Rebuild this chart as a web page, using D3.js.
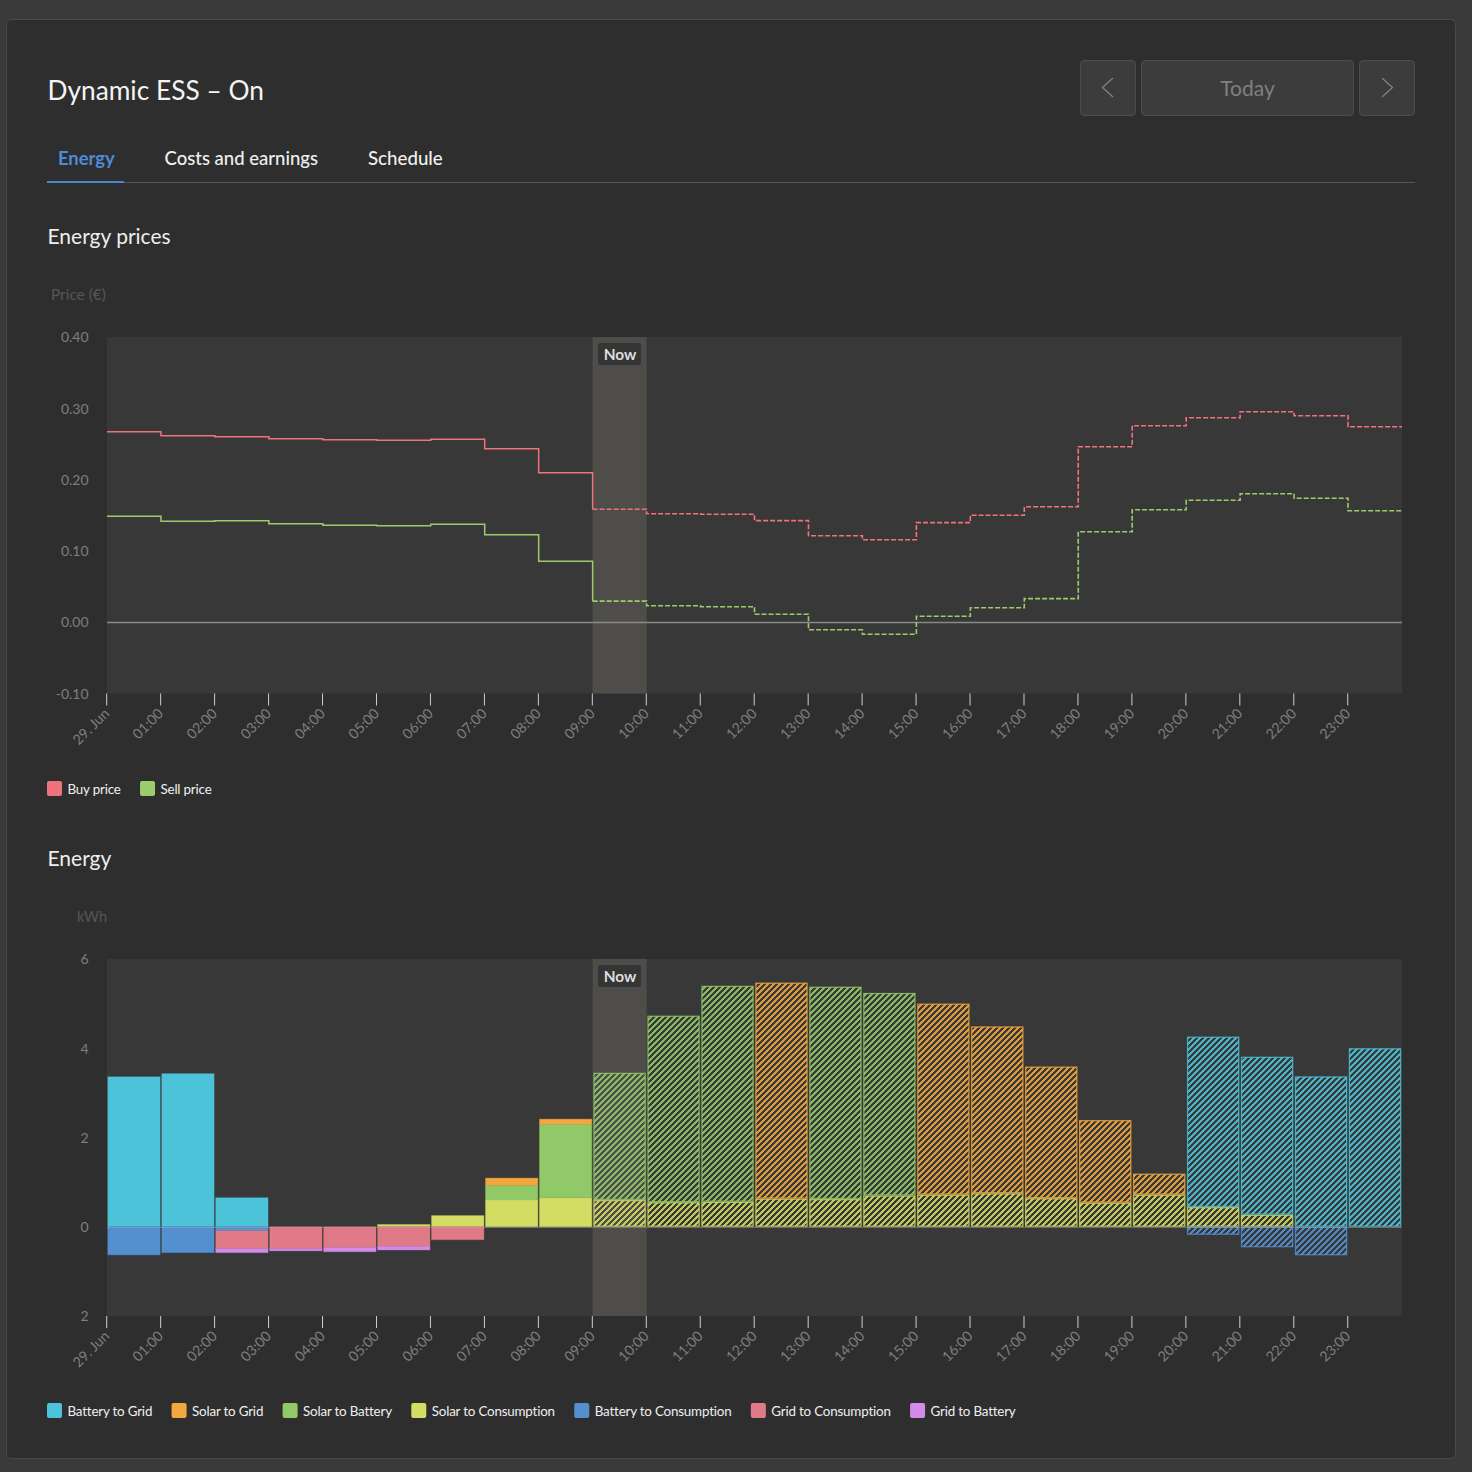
<!DOCTYPE html>
<html><head><meta charset="utf-8">
<script src="https://cdn.jsdelivr.net/npm/d3@7"></script>
<style>
html,body{margin:0;padding:0;background:#3a3a3a;}
svg{display:block;font-family:Lato,"Open Sans",sans-serif;}
</style></head><body>
<svg id="c" width="1472" height="1472"></svg>
<script>
const hourLabels=["29. Jun","01:00","02:00","03:00","04:00","05:00","06:00","07:00","08:00","09:00","10:00","11:00","12:00","13:00","14:00","15:00","16:00","17:00","18:00","19:00","20:00","21:00","22:00","23:00"];
const nowHour=9;
const buyPrice=[.2672,.2616,.2602,.2574,.2560,.2553,.2567,.2433,.2097,.1585,.1522,.1515,.1424,.1213,.1157,.1396,.1501,.1620,.2461,.2756,.2868,.2952,.2896,.2742];
const sellPrice=[.1487,.1417,.1424,.1381,.1360,.1353,.1374,.1227,.0856,.0295,.0231,.0217,.0112,-.0105,-.0168,.0084,.0203,.0330,.1269,.1578,.1711,.1802,.1739,.1564];
const batteryToGrid=[3.36,3.43,.65,0,0,0,0,0,0,0,0,0,0,0,0,0,0,0,0,0,3.82,3.54,3.37,4.0];
const solarToGrid=[0,0,0,0,0,0,0,.16,.11,0,0,0,4.84,0,0,4.28,3.74,2.95,1.85,.47,0,0,0,0];
const solarToBattery=[0,0,0,0,0,0,0,.33,1.65,2.85,4.18,4.84,0,4.76,4.54,0,0,0,0,0,0,0,0,0];
const solarToConsumption=[0,0,0,0,0,.05,.25,.6,.65,.6,.55,.56,.63,.62,.70,.72,.75,.64,.54,.72,.44,.27,0,0];
const batteryToConsumption=[-.63,-.58,-.09,0,0,0,0,0,0,0,0,0,0,0,0,0,0,0,0,0,-.18,-.46,-.64,0];
const gridToConsumption=[0,0,-.40,-.49,-.47,-.44,-.29,0,0,0,0,0,0,0,0,0,0,0,0,0,0,0,0,0];
const gridToBattery=[0,0,-.09,-.05,-.09,-.08,0,0,0,0,0,0,0,0,0,0,0,0,0,0,0,0,0,0];
const priceTicks=[-.1,0,.1,.2,.3,.4];
const energyTicks=[-2,0,2,4,6];
const priceLegend=[["Buy price","#f0727a"],["Sell price","#9ccc6b"]];
const energySeries=[
 ["Battery to Grid",batteryToGrid,"#4dc3da"],
 ["Solar to Grid",solarToGrid,"#f2a73f"],
 ["Solar to Battery",solarToBattery,"#92c968"],
 ["Solar to Consumption",solarToConsumption,"#d3dc63"],
 ["Battery to Consumption",batteryToConsumption,"#5490d0"],
 ["Grid to Consumption",gridToConsumption,"#e07a87"],
 ["Grid to Battery",gridToBattery,"#d48ae8"]];
const stackOrder=["Solar to Consumption","Solar to Battery","Solar to Grid","Battery to Grid","Battery to Consumption","Grid to Consumption","Grid to Battery"];

const svg=d3.select("#c");
const defs=svg.append("defs");
svg.append("rect").attr("x",6.5).attr("y",19.5).attr("width",1449).attr("height",1439).attr("rx",5)
  .attr("fill","#2e2e2e").attr("stroke","#4a4a4a");

// header
const T=(x,y,s,size,fill,extra)=>{const t=svg.append("text").attr("x",x).attr("y",y).attr("font-size",size).attr("fill",fill).text(s);if(extra)extra(t);return t;};
T(47.5,100,"Dynamic ESS – On",26.3,"#f4f4f4");
T(58,165,"Energy",18.4,"#4f8bd6",t=>t.attr("font-weight",700));
T(164.5,165,"Costs and earnings",18.5,"#f0f0f0",t=>t.attr("font-weight",500));
T(368,165,"Schedule",18.7,"#f0f0f0",t=>t.attr("font-weight",500));
svg.append("rect").attr("x",47).attr("y",182).attr("width",1368).attr("height",1).attr("fill","#565656");
svg.append("rect").attr("x",47).attr("y",181).attr("width",77).attr("height",2).attr("fill","#4a86d0");
[[1080,56],[1141,213],[1359,56]].forEach(([x,w])=>svg.append("rect").attr("x",x+.5).attr("y",60.5).attr("width",w-1).attr("height",55).attr("rx",3.5).attr("fill","#3c3c3c").attr("stroke","#4c4c4c"));
T(1247.5,96,"Today",21,"#808080",t=>t.attr("text-anchor","middle"));
svg.append("path").attr("d","M1113 78L1102.5 87.5L1113 97").attr("fill","none").attr("stroke","#808080").attr("stroke-width",1.3);
svg.append("path").attr("d","M1382 78L1392.5 87.5L1382 97").attr("fill","none").attr("stroke","#808080").attr("stroke-width",1.3);

T(47.5,243.5,"Energy prices",21,"#eeeeee");
T(47.5,866,"Energy",21,"#eeeeee");

const plotL=107,plotR=1402;
const x=d3.scaleLinear().domain([0,24]).range([plotL,plotR]);
const hours=d3.range(24);

function frame(top,bottom,ticks,yDomain,fmt){
  const g=svg.append("g");
  const y=d3.scaleLinear().domain(yDomain).range([bottom,top]);
  g.append("rect").attr("x",plotL).attr("y",top).attr("width",plotR-plotL).attr("height",bottom-top).attr("fill","#383838");
  g.append("rect").attr("x",x(nowHour)).attr("y",top).attr("width",x(nowHour+1)-x(nowHour)).attr("height",bottom-top).attr("fill","#4f4d49");
  const yg=g.append("g").attr("transform",`translate(${plotL-.4},0.3)`).call(d3.axisLeft(y).tickValues(ticks).tickSize(0).tickPadding(18).tickFormat(fmt));
  yg.select(".domain").remove();
  yg.selectAll("text").attr("font-size",14).attr("fill","#7f7f7f").attr("font-family","Lato,sans-serif");
  const xg=g.append("g").attr("transform",`translate(-0.8,${bottom})`).call(d3.axisBottom(x).tickValues(hours).tickSize(12).tickFormat(i=>hourLabels[i]));
  xg.select(".domain").remove();
  xg.selectAll("line").attr("stroke","#c9cfdc").attr("stroke-width",1);
  xg.selectAll("text").attr("font-size",14.1).attr("fill","#7f7f7f").attr("font-family","Lato,sans-serif")
    .attr("text-anchor","end").attr("y",0).attr("dy",0)
    .attr("transform","translate(3.5,21) rotate(-45)");
  const lab=svg.append("g");
  lab.append("rect").attr("x",598).attr("y",top+6).attr("width",43).attr("height",22).attr("rx",2).attr("fill","#353535");
  lab.append("text").attr("x",620).attr("y",top+23).attr("text-anchor","middle").attr("font-size",15.4).attr("font-weight",700).attr("fill","#dddddd").text("Now");
  return {y,g,lab};
}

// price chart
const p=frame(337,693.5,priceTicks,[-.1,.4],d=>d3.format(".2f")(d).replace("−","-"));
T(51,300,"Price (€)",15.4,"#565656");
p.g.append("line").attr("x1",plotL).attr("x2",plotR).attr("y1",Math.round(p.y(0))+.5).attr("y2",Math.round(p.y(0))+.5).attr("stroke","#8a8a88").attr("stroke-width",1.3);
const step=d3.line().x(d=>x(d[0])).y(d=>p.y(d[1])).curve(d3.curveStepAfter);
[[buyPrice,"#f0727a"],[sellPrice,"#9ccc6b"]].forEach(([vals,col])=>{
  const pts=vals.map((v,i)=>[i,v]);
  p.g.append("path").attr("d",step(pts.slice(0,nowHour+1))).attr("fill","none").attr("stroke",col).attr("stroke-width",1.5);
  p.g.append("path").attr("d",step(pts.slice(nowHour).concat([[24,vals[23]]]))).attr("fill","none").attr("stroke",col).attr("stroke-width",1.6).attr("stroke-dasharray","5 2");
});
p.lab.raise();

// energy chart
const e=frame(959,1316,energyTicks,[-2,6],d=>Math.abs(d));
T(77,922,"kWh",14.5,"#565656");
const rows=hours.map(h=>Object.fromEntries(energySeries.map(s=>[s[0],s[1][h]])));
const stacked=d3.stack().keys(stackOrder).offset(d3.stackOffsetDiverging)(rows);
energySeries.forEach(([n,,c],i)=>{
  defs.append("pattern").attr("id","hatch"+i).attr("patternUnits","userSpaceOnUse").attr("width",6).attr("height",6)
    .append("path").attr("d","M-1.5 1.5L1.5 -1.5M0 6L6 0M4.5 7.5L7.5 4.5").attr("stroke",c).attr("stroke-opacity",.88).attr("stroke-width",2.1).attr("fill","none").attr("shape-rendering","crispEdges");
});
const band=d3.scaleBand().domain(hours).range([plotL,plotR]).paddingInner(.03).paddingOuter(.015);
stacked.forEach(layer=>{
  const idx=energySeries.findIndex(s=>s[0]===layer.key), col=energySeries[idx][2];
  e.g.append("g").selectAll("rect").data(layer.map((d,h)=>({h,a:d[0],b:d[1]})).filter(d=>d.a!==d.b)).join("rect")
    .attr("x",d=>band(d.h)+(d.h>=nowHour?.6:0))
    .attr("width",d=>band.bandwidth()-(d.h>=nowHour?1.2:0))
    .attr("y",d=>e.y(Math.max(d.a,d.b))+(d.h>=nowHour?.6:0))
    .attr("height",d=>Math.abs(e.y(d.a)-e.y(d.b))-(d.h>=nowHour?1.2:0))
    .attr("fill",d=>d.h>=nowHour?`url(#hatch${idx})`:col)
    .attr("stroke",col)
    .attr("stroke-opacity",d=>d.h>=nowHour?.8:.35)
    .attr("stroke-width",d=>d.h>=nowHour?1.3:1);
});
e.g.append("line").attr("x1",plotL).attr("x2",plotR).attr("y1",Math.round(e.y(0))+.5).attr("y2",Math.round(e.y(0))+.5).attr("stroke","#a8a8a6").attr("stroke-width",.8).attr("stroke-opacity",.6);
e.lab.raise();

// legends
function legend(y,items){
  let cx=47;
  items.forEach(([name,col])=>{
    svg.append("rect").attr("x",cx).attr("y",y-7.5).attr("width",15).attr("height",15).attr("rx",2).attr("fill",col);
    const t=svg.append("text").attr("x",cx+20.5).attr("y",y+5).attr("font-size",13.4).attr("letter-spacing",-.2).attr("fill","#f0f0f0").text(name);
    cx+=20.5+t.node().getComputedTextLength()+19.4;
  });
}
legend(788.5,priceLegend);
legend(1410.5,energySeries.map(s=>[s[0],s[2]]));
</script></body></html>
